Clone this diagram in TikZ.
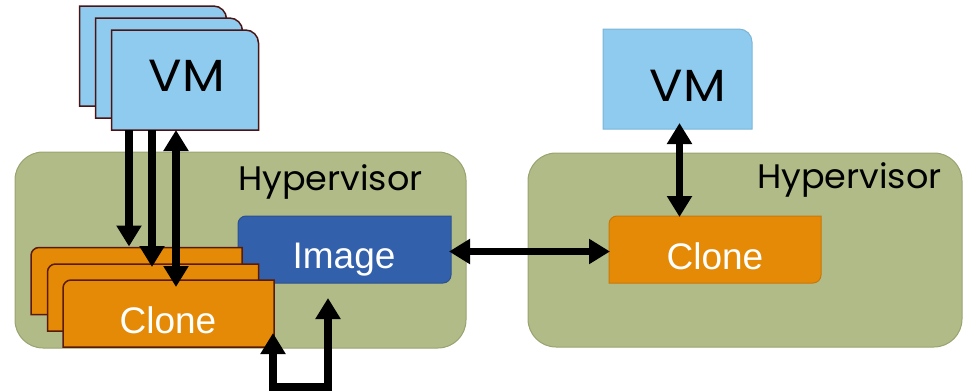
\documentclass[tikz,border=0pt]{standalone}
\usepackage{fontspec}
\usepackage{graphicx}
\usetikzlibrary{arrows.meta,backgrounds}
\newfontfamily\gothic{Poppins}
\newfontfamily\arialish{Liberation Sans}

\definecolor{hypfill}{HTML}{B0BB87}
\definecolor{hypline}{HTML}{98A36F}
\definecolor{vmfill}{HTML}{8ECBEE}
\definecolor{vmline}{HTML}{4B1414}
\definecolor{vmlinelight}{HTML}{7AB5DA}
\definecolor{clonefill}{HTML}{E58A06}
\definecolor{cloneline}{HTML}{5A1A08}
\definecolor{clonelinelight}{HTML}{C97808}
\definecolor{imgfill}{HTML}{3360AA}
\definecolor{imgline}{HTML}{2B5290}

% box with only the top-right corner rounded
\newcommand\tabshape[3]{%
  \path[#2] (#1.south west) -- (#1.north west)
    -- ([xshift=-#3]#1.north east) arc[start angle=90,end angle=0,radius=#3]
    -- (#1.south east) -- cycle;}
% box with top-left and bottom-right corners rounded
\newcommand\diagshape[3]{%
  \path[#2] (#1.south west) -- ([yshift=-#3]#1.north west)
    arc[start angle=180,end angle=90,radius=#3]
    -- (#1.north east) -- ([yshift=#3]#1.south east)
    arc[start angle=0,end angle=-90,radius=#3] -- cycle;}
% slightly widened geometric lettering
\newcommand\wide[2]{\scalebox{#1}[1]{#2}}

\tikzset{
  frame/.style={inner sep=0pt,outer sep=0pt,draw=none},
  vmframe/.style={frame,minimum width=147pt,minimum height=100pt},
  cloneframe/.style={frame,minimum width=211pt,minimum height=67pt},
  vmtext/.style={inner sep=0pt,font=\gothic\fontsize{45}{45}\selectfont},
  hyptext/.style={inner sep=0pt,font=\gothic\fontsize{34}{34}\selectfont},
  boxtext/.style={inner sep=0pt,anchor=base,text=white,font=\arialish\fontsize{37}{37}\selectfont},
  arr/.style={line width=7.5pt,black,-{Triangle[width=24pt,length=21pt]}},
  darr/.style={arr,{Triangle[width=24pt,length=21pt]}-{Triangle[width=24pt,length=21pt]}},
}

\begin{document}
\begin{tikzpicture}[x=1pt,y=-1pt]
\useasboundingbox (0,0) rectangle (963,391);

% frames
\node[frame,minimum width=451pt,minimum height=196pt] (hypL) at (240.5,250) {};
\node[frame,minimum width=434pt,minimum height=194pt] (hypR) at (745,250) {};
\node[vmframe] (vmA) at (153,56) {};
\node[vmframe] (vmB) at (169,68) {};
\node[vmframe] (vmC) at (185,80) {};
\node[vmframe,minimum width=149pt] (vmR) at (677.5,79) {};
\node[cloneframe,minimum width=213pt] (img) at (344.5,249.5) {};
\node[cloneframe] (clA) at (136.5,281) {};
\node[cloneframe] (clB) at (153,297.5) {};
\node[cloneframe] (clC) at (168.5,313.5) {};
\node[cloneframe,minimum width=212pt] (clR) at (715,249.5) {};

% labels
\node[vmtext] (vmCtext) at (187,76) {\wide{1.1}{VM}};
\node[vmtext] (vmRtext) at (688,86) {\wide{1.1}{VM}};
\node[hyptext,anchor=base west] (hypLtext) at (238,190) {\wide{1.03}{Hypervisor}};
\node[hyptext,anchor=base west] (hypRtext) at (757,188) {\wide{1.03}{Hypervisor}};
\node[boxtext] (imgtext) at (344,268) {Image};
\node[boxtext] (clCtext) at (168,333) {Clone};
\node[boxtext] (clRtext) at (715,269) {Clone};

\begin{scope}[on background layer]
  \path[fill=hypfill,draw=hypline,line width=1pt,rounded corners=28pt]
    (hypL.south west) rectangle (hypL.north east);
  \path[fill=hypfill,draw=hypline,line width=1pt,rounded corners=28pt]
    (hypR.south west) rectangle (hypR.north east);
  \tabshape{vmA}{fill=vmfill,draw=vmline,line width=1.5pt}{13pt}
  \tabshape{vmB}{fill=vmfill,draw=vmline,line width=1.5pt}{13pt}
  \tabshape{vmC}{fill=vmfill,draw=vmline,line width=1.5pt}{13pt}
  \tabshape{vmR}{fill=vmfill,draw=vmlinelight,line width=1pt}{13pt}
  \diagshape{img}{fill=imgfill,draw=imgline,line width=1pt}{8pt}
  \diagshape{clA}{fill=clonefill,draw=cloneline,line width=1.5pt}{8pt}
  \diagshape{clB}{fill=clonefill,draw=cloneline,line width=1.5pt}{8pt}
  \diagshape{clC}{fill=clonefill,draw=cloneline,line width=1.5pt}{8pt}
  \diagshape{clR}{fill=clonefill,draw=clonelinelight,line width=1pt}{8pt}
\end{scope}

% connectors
\coordinate (xA) at (129,0);
\coordinate (xB) at (152,0);
\coordinate (xC) at (176,0);
\draw[arr] (xA |- vmC.south) -- ([yshift=1pt]xA |- clA.north);
\draw[arr] (xB |- vmC.south) -- ([yshift=-3pt]xB |- clB.north);
\draw[darr] (xC |- vmC.south) -- ([yshift=-7pt]xC |- clC.north);
\coordinate (xR) at (679.5,0);
\draw[darr] ([yshift=6pt]xR |- vmR.south) -- ([yshift=-1pt]xR |- clR.north);
\coordinate (yH) at (0,251.5);
\draw[darr] ([xshift=-2pt]img.east |- yH) -- ([xshift=1pt]clR.west |- yH);
\coordinate (loopL) at (273,387);
\coordinate (loopR) at (328,387);
\draw[darr] ([yshift=14pt]loopL |- clC.south) -- (loopL) -- (loopR)
  -- ([yshift=-15pt]loopR |- img.south);
\end{tikzpicture}
\end{document}
